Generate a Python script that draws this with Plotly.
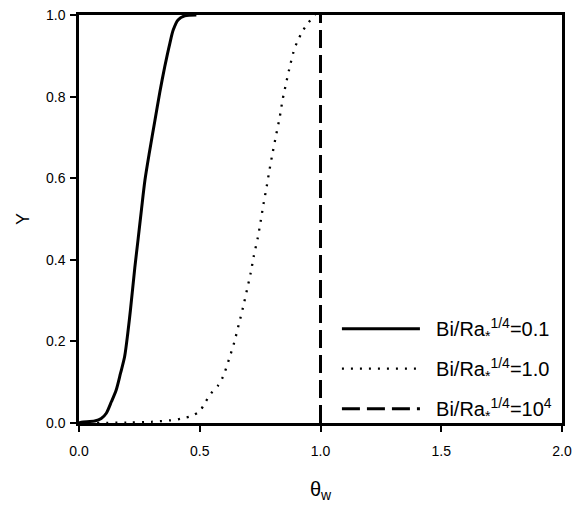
import plotly.graph_objects as go

# Solid: Bi/Ra*^1/4 = 0.1
theta_01 = [0, 0.01, 0.065, 0.092, 0.113, 0.134, 0.154, 0.172, 0.189, 0.202, 0.213,
            0.231, 0.245, 0.259, 0.273, 0.292, 0.314, 0.335, 0.355, 0.376, 0.390,
            0.410, 0.438, 0.486]
y_01 = [0, 0.002, 0.005, 0.011, 0.024, 0.052, 0.081, 0.122, 0.163, 0.220, 0.277,
        0.380, 0.452, 0.525, 0.595, 0.665, 0.740, 0.812, 0.873, 0.930, 0.963,
        0.988, 0.998, 1.0]

# Dotted: Bi/Ra*^1/4 = 1.0
theta_10 = [0, 0.2, 0.3, 0.4, 0.428, 0.464, 0.5, 0.522, 0.545, 0.576, 0.596, 0.621,
            0.643, 0.661, 0.679, 0.695, 0.711, 0.724, 0.740, 0.752, 0.764, 0.777,
            0.789, 0.802, 0.817, 0.831, 0.843, 0.858, 0.874, 0.893, 0.908, 0.926,
            0.950, 0.978]
y_10 = [0, 0.001, 0.003, 0.008, 0.0115, 0.017, 0.029, 0.050, 0.071, 0.092, 0.113, 0.156,
        0.198, 0.240, 0.283, 0.325, 0.368, 0.410, 0.453, 0.494, 0.537, 0.579,
        0.621, 0.663, 0.708, 0.749, 0.792, 0.834, 0.876, 0.919, 0.939, 0.961,
        0.981, 1.0]

# Dashed: Bi/Ra*^1/4 = 10^4
theta_1e4 = [1.0, 1.0]
y_1e4 = [0.0, 1.0]

x_ticks = [0.0, 0.5, 1.0, 1.5, 2.0]
y_ticks = [0.0, 0.2, 0.4, 0.6, 0.8, 1.0]

names = ["Bi/Ra<sub>*</sub><sup>1/4</sup>=0.1",
         "Bi/Ra<sub>*</sub><sup>1/4</sup>=1.0",
         "Bi/Ra<sub>*</sub><sup>1/4</sup>=10<sup>4</sup>"]

FONT = "Arial, Liberation Sans, sans-serif"
PAD = "\u00a0\u00a0"

fig = go.Figure()
fig.add_trace(go.Scatter(x=theta_01, y=y_01, mode="lines", line_shape="spline",
                         name=PAD + names[0], legendgroup="a",
                         line=dict(color="black", width=3, smoothing=0.8)))
fig.add_trace(go.Scatter(x=theta_10, y=y_10, mode="lines", line_shape="spline",
                         name=PAD + names[1], legendgroup="b",
                         line=dict(color="black", width=2.3, dash="2px,7px", smoothing=0.8)))
fig.add_trace(go.Scatter(x=theta_1e4, y=y_1e4, mode="lines",
                         name=PAD + names[2], legendgroup="c",
                         line=dict(color="black", width=3, dash="18px,7px")))

fig.update_layout(
    width=587, height=510,
    margin=dict(l=79, r=25, t=15, b=87, autoexpand=False),
    paper_bgcolor="white", plot_bgcolor="white",
    font=dict(family=FONT, color="black", size=14),
    showlegend=True,
    legend=dict(x=0.534, y=0.279, xanchor="left", yanchor="top",
                bgcolor="rgba(0,0,0,0)", borderwidth=0,
                font=dict(size=20, family=FONT), itemwidth=78,
                tracegroupgap=11),
    xaxis=dict(range=[0, 2], tickvals=x_ticks, tickformat=".1f", automargin=False,
               showgrid=False, zeroline=False,
               showline=True, linecolor="black", linewidth=2.5, mirror=True,
               ticks="outside", ticklen=6, tickwidth=2, tickcolor="black",
               ticklabelstandoff=7, ticklabeloverflow="allow",
               tickfont=dict(size=14),
               title=dict(text="θ<sub>w</sub>", font=dict(size=20), standoff=25)),
    yaxis=dict(range=[0, 1], tickvals=y_ticks, tickformat=".1f", automargin=False,
               showgrid=False, zeroline=False,
               showline=True, linecolor="black", linewidth=2.5, mirror=True,
               ticks="outside", ticklen=6, tickwidth=2, tickcolor="black",
               ticklabelstandoff=2, ticklabeloverflow="allow",
               tickfont=dict(size=14),
               title=dict(text="Y", font=dict(size=18), standoff=12)),
)

fig.write_html("out.html", config={"displayModeBar": False},
               post_script="document.body.style.margin='0px';")
